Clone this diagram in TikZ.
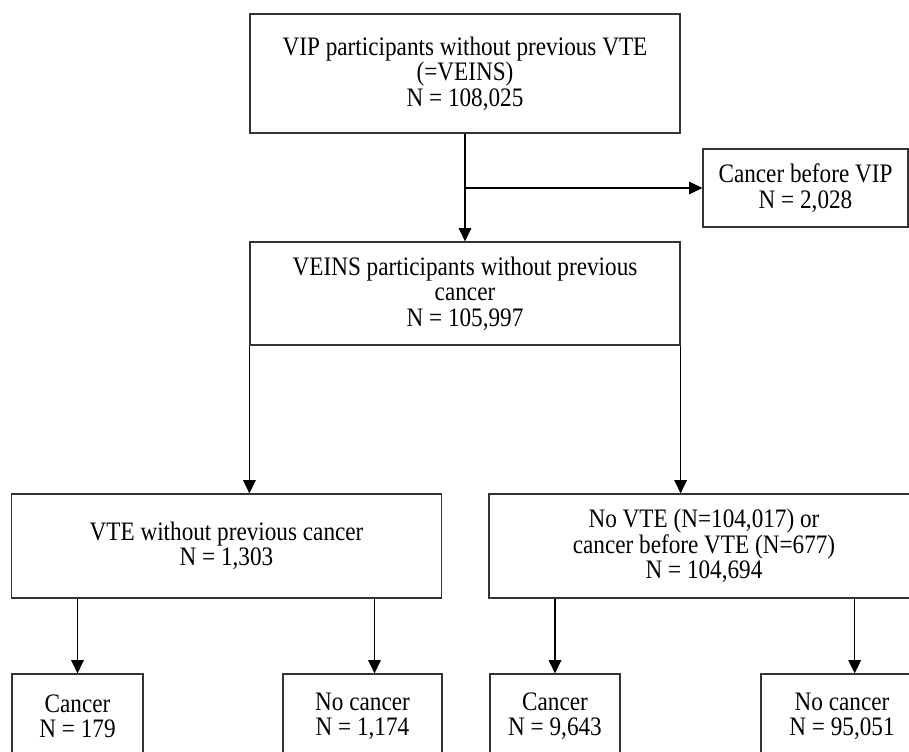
\documentclass[tikz,border=0pt]{standalone}
\usepackage{fontspec}
\setmainfont{Liberation Serif}[FakeStretch=0.87]
\usetikzlibrary{positioning,arrows.meta}
\tikzset{
  every node/.style={font=\fontsize{20}{19}\selectfont},
  % --- nodes
  box/.style  = {draw=black!80, line width=0.9pt, align=center, inner sep=0pt},
  big/.style  = {box, minimum width=322.5pt},
  leaf/.style = {box, minimum height=63pt},
  % --- edges
  e/.style    = {-{Triangle[length=10pt,width=9.5pt]}, line width=0.8pt, draw=black},
}

\begin{document}
\begin{tikzpicture}[x=0.75pt,y=-0.75pt]
  \useasboundingbox (0,0) rectangle (909,752);
  \clip (0,0) rectangle (909,752);
  % cohort
  \node[big, minimum height=89.25pt] (vip) at (465,73.5)
    {VIP participants without previous VTE\\(=VEINS)\\N = 108,025};
  \node[box, minimum width=153.75pt, minimum height=58.5pt] (cbv) at (805.5,188)
    {Cancer before VIP\\N = 2,028};
  \node[big, minimum height=77.25pt] (veins) at (465,293.5)
    {VEINS participants without previous\\cancer\\N = 105,997};
  % VTE split
  \node[big, minimum height=78pt] (vte) at (226.5,546)
    {VTE without previous cancer\\N = 1,303};
  \node[big, minimum height=78pt] (novte) at (704,546)
    {No VTE (N=104,017) or\\cancer before VTE (N=677)\\N = 104,694};
  % outcome
  \node[leaf, minimum width=98.25pt] (c1) at (77.5,716) {Cancer\\N = 179};
  \node[leaf, minimum width=119.25pt] (n1) at (362.5,716) {No cancer\\N = 1,174};
  \node[leaf, minimum width=97.5pt] (c2) at (555,716) {Cancer\\N = 9,643};
  \node[leaf, minimum width=121.5pt] (n2) at (842,716) {No cancer\\N = 95,051};
  \coordinate (n1top) at ([xshift=9pt]n1.north);
  \coordinate (n2top) at ([xshift=9.5pt]n2.north);
  % arrows
  \draw[e] (vip) -- (veins);
  \draw[e] (vip.south |- cbv.west) -- (cbv.west);
  \draw[e] (veins.south west) -- (veins.south west |- vte.north);
  \draw[e] (veins.south east) -- (veins.south east |- novte.north);
  \draw[e] (vte.south -| c1.north) -- (c1.north);
  \draw[e] (vte.south -| n1top) -- (n1top);
  \draw[e] (novte.south -| c2.north) -- (c2.north);
  \draw[e] (novte.south -| n2top) -- (n2top);
\end{tikzpicture}
\end{document}
